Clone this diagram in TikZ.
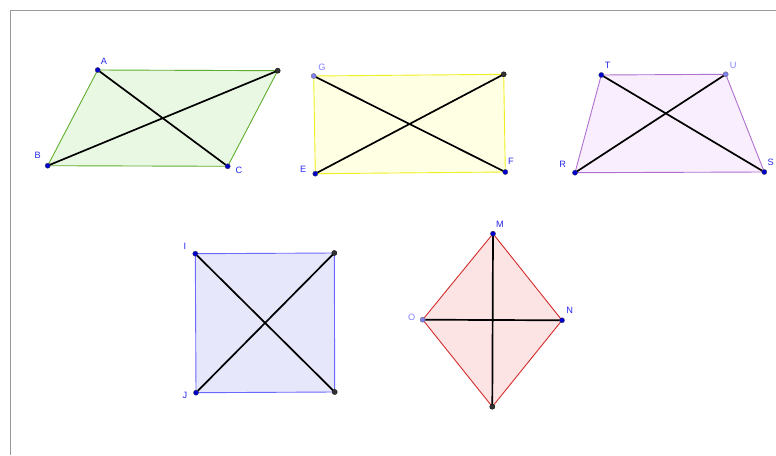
\documentclass[tikz,border=0pt]{standalone}
\usepackage{fontspec}
\setmainfont{Liberation Sans}
\begin{document}
\begin{tikzpicture}[x=1pt,y=-1pt,
  edge/.style={line width=0.9pt},
  diag/.style={line width=1.7pt,black},
  ptfree/.style={circle,fill=ptblue,draw=black!70,line width=0.3pt,inner sep=0pt,minimum size=5.2pt},
  ptdep/.style={circle,fill=ptlight,draw=black!60,line width=0.3pt,inner sep=0pt,minimum size=5.2pt},
  ptgray/.style={circle,fill=ptgrey,draw=black,line width=0.3pt,inner sep=0pt,minimum size=5.2pt},
  lbl/.style={text=lblblue,font=\fontsize{9.2}{10}\selectfont,inner sep=0pt},
  lbll/.style={text=lbllight,font=\fontsize{9.2}{10}\selectfont,inner sep=0pt}]
\definecolor{ptblue}{HTML}{0000CC}
\definecolor{ptlight}{HTML}{7F7FEE}
\definecolor{ptgrey}{HTML}{333333}
\definecolor{lblblue}{HTML}{2828F0}
\definecolor{lbllight}{HTML}{8080FF}
\definecolor{gedge}{HTML}{5FAF2F}
\definecolor{gfill}{HTML}{E9F8E2}
\definecolor{yedge}{HTML}{F0F020}
\definecolor{yfill}{HTML}{FFFFE4}
\definecolor{pedge}{HTML}{B070D0}
\definecolor{pfill}{HTML}{F8EEFD}
\definecolor{bedge}{HTML}{6A6AFF}
\definecolor{bfill}{HTML}{E7E7FB}
\definecolor{redge}{HTML}{D42C2C}
\definecolor{rfill}{HTML}{FDE4E4}
\useasboundingbox (0,0) rectangle (776,455);
\fill[white] (0,0) rectangle (776,455);
% frame
\coordinate (f1) at (10,455);
\coordinate (f2) at (10,10);
\coordinate (f3) at (776,10);
\draw[black!40,line width=0.8pt] (f1) -- (f2) -- (f3);
% parallelogram
\coordinate (A) at (97.7,70);
\coordinate (D) at (277.7,70.7);
\coordinate (C) at (227.7,166.3);
\coordinate (B) at (47.7,165.7);
\filldraw[edge,draw=gedge,fill=gfill] (A) -- (D) -- (C) -- (B) -- cycle;
\draw[diag] (A) -- (C);
\draw[diag] (B) -- (D);
% rectangle
\coordinate (G) at (313.7,76);
\coordinate (H) at (503.7,74.3);
\coordinate (F) at (505.3,172);
\coordinate (E) at (315.3,173.7);
\filldraw[edge,draw=yedge,fill=yfill] (G) -- (H) -- (F) -- (E) -- cycle;
\draw[diag] (G) -- (F);
\draw[diag] (E) -- (H);
% trapezoid
\coordinate (T) at (601.3,75);
\coordinate (U) at (725.7,74.3);
\coordinate (S) at (764.3,172);
\coordinate (R) at (575,172.7);
\filldraw[edge,draw=pedge,fill=pfill] (T) -- (U) -- (S) -- (R) -- cycle;
\draw[diag] (T) -- (S);
\draw[diag] (R) -- (U);
% square
\coordinate (I) at (195.3,253.7);
\coordinate (K) at (334.3,253);
\coordinate (L) at (334.7,392);
\coordinate (J) at (196,392.7);
\filldraw[edge,draw=bedge,fill=bfill] (I) -- (K) -- (L) -- (J) -- cycle;
\draw[diag] (I) -- (L);
\draw[diag] (J) -- (K);
% rhombus
\coordinate (M) at (493,233.7);
\coordinate (N) at (562,320.3);
\coordinate (P) at (492.3,406.7);
\coordinate (O) at (422.7,319.7);
\filldraw[edge,draw=redge,fill=rfill] (M) -- (N) -- (P) -- (O) -- cycle;
\draw[diag] (M) -- (P);
\draw[diag] (O) -- (N);
% points
\node[ptfree] (pA) at (A) {};
\node[ptgray] (pD) at (D) {};
\node[ptfree] (pB) at (B) {};
\node[ptfree] (pC) at (C) {};
\node[ptdep] (pG) at (G) {};
\node[ptgray] (pH) at (H) {};
\node[ptfree] (pE) at (E) {};
\node[ptfree] (pF) at (F) {};
\node[ptfree] (pT) at (T) {};
\node[ptdep] (pU) at (U) {};
\node[ptfree] (pR) at (R) {};
\node[ptfree] (pS) at (S) {};
\node[ptfree] (pI) at (I) {};
\node[ptgray] (pK) at (K) {};
\node[ptfree] (pJ) at (J) {};
\node[ptgray] (pL) at (L) {};
\node[ptfree] (pM) at (M) {};
\node[ptfree] (pN) at (N) {};
\node[ptdep] (pO) at (O) {};
\node[ptgray] (pP) at (P) {};
% labels
\node[lbl] (lA) at (104,61) {A};
\node[lbl] (lB) at (37.7,155) {B};
\node[lbl] (lC) at (239,170) {C};
\node[lbll] (lG) at (322,67.3) {G};
\node[lbl] (lE) at (303.3,169.3) {E};
\node[lbl] (lF) at (511,161) {F};
\node[lbl] (lT) at (607.7,65.7) {T};
\node[lbll] (lU) at (733.3,65) {U};
\node[lbl] (lR) at (562.7,164.3) {R};
\node[lbl] (lS) at (770.8,162.7) {S};
\node[lbl] (lI) at (185,246.7) {I};
\node[lbl] (lJ) at (185,395) {J};
\node[lbl] (lM) at (500,224.7) {M};
\node[lbl] (lN) at (569.7,310.3) {N};
\node[lbll] (lO) at (411.7,317.3) {O};
\end{tikzpicture}
\end{document}
